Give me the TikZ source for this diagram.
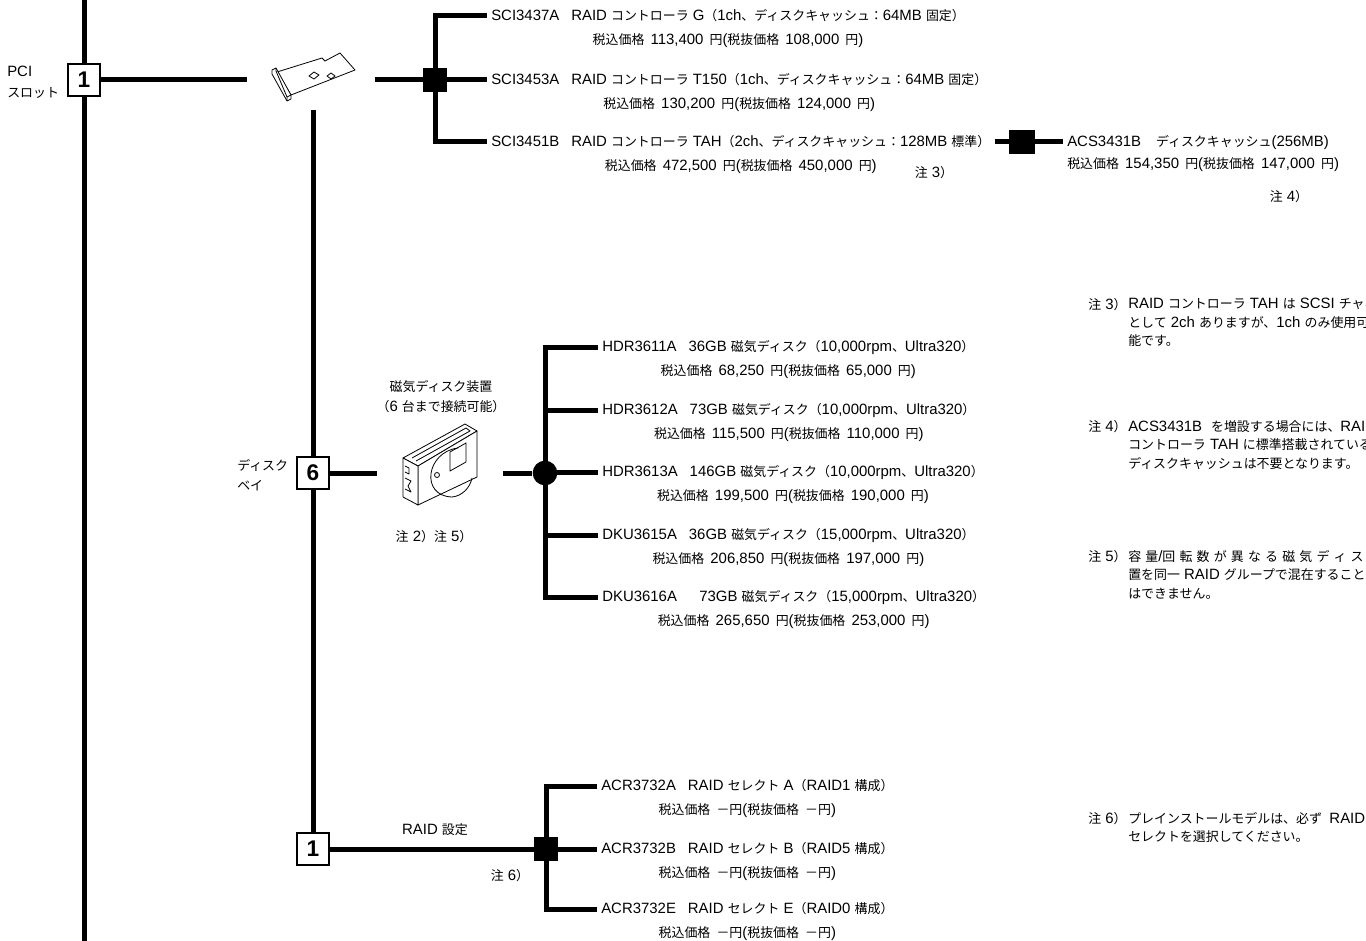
\documentclass[tikz,border=0pt]{standalone}
\usepackage{fontspec}
\setmainfont{Liberation Sans}[Scale=1.12]
\newfontfamily\latfont{Liberation Sans}[Scale=1.12]
\newfontfamily\cjkfont{Noto Sans CJK JP}[Scale=0.97]
\newfontfamily\digitfont{Liberation Sans}
\usetikzlibrary{positioning}

% Latin runs in Liberation Sans, Japanese runs in Noto Sans CJK JP
\XeTeXinterchartokenstate=1
\newXeTeXintercharclass\cjkcls
\newcount\cjkcnt
\def\setcjkrange#1#2{\cjkcnt=#1\relax
  \loop\XeTeXcharclass\cjkcnt=\cjkcls
  \ifnum\cjkcnt<#2\relax\advance\cjkcnt by 1\repeat}
\setcjkrange{"3000}{"30FF}
\setcjkrange{"4E00}{"9FFF}
\setcjkrange{"FF00}{"FFEF}
\XeTeXinterchartoks 0 \cjkcls = {\cjkfont}
\XeTeXinterchartoks 4095 \cjkcls = {\cjkfont}
\XeTeXinterchartoks \cjkcls 0 = {\latfont}
\XeTeXinterchartoks \cjkcls 4095 = {\latfont}

\newcommand{\sepgap}[1]{\hspace{#1em}}
\newcommand{\wide}{\hspace{0.28em}}

\tikzstyle{bus}=[line width=3.75pt]
\tikzstyle{numbox}=[draw,line width=1.2pt,fill=white,minimum size=24pt,inner sep=0pt,font=\digitfont\bfseries\fontsize{17}{17}\selectfont]
\tikzstyle{joint}=[fill=black,minimum size=18pt,inner sep=0pt]
\tikzstyle{dot}=[circle,fill=black,minimum size=18.5pt,inner sep=0pt]
\tikzstyle{item}=[anchor=west,inner xsep=3pt,inner ysep=0pt,text height=8.5pt,text depth=1.5pt]
\tikzstyle{price}=[inner xsep=3pt,inner ysep=0pt,text height=8.5pt,text depth=1.5pt,execute at begin node={\spaceskip=4.6pt plus 1pt}]
\tikzstyle{tag}=[inner sep=0pt]
\tikzstyle{note}=[anchor=north west,align=left,inner sep=0pt,font=\fontsize{10}{13.9}\selectfont]
\tikzstyle{sketch}=[line width=0.6pt,line join=round]

\begin{document}
\begin{tikzpicture}[x=0.75pt,y=-0.75pt,font=\fontsize{10}{12}\selectfont,node distance=7.5pt]
	\fill[white] (0,0) rectangle (1366,941);
	\useasboundingbox (0,0) rectangle (1366,941);
	% PCI slot and controllers
	\node[numbox] (pci) at (84,80) {1};
	\node[tag,anchor=west,align=left,font=\fontsize{10}{15.75}\selectfont] (pcit) at (7,82) {PCI\\スロット};
	\coordinate (top) at (84,0);
	\coordinate (bot) at (84,941);
	\coordinate (cardl) at (247,80);
	\coordinate (cardr) at (375,80);
	\coordinate (cardb) at (313,110);
	\node[joint] (h1) at (435,80) {};
	\node[item] (s1) at (487,16) {SCI3437A\sepgap{0.8}RAID コントローラ G（1ch、ディスクキャッシュ：64MB 固定）};
	\node[price,below=of s1] (s1p) {税込価格 113,400 円(税抜価格 108,000 円)};
	\node[item] (s2) at (487,80) {SCI3453A\sepgap{0.8}RAID コントローラ T150（1ch、ディスクキャッシュ：64MB 固定）};
	\node[price,below=of s2] (s2p) {税込価格 130,200 円(税抜価格 124,000 円)};
	\node[item] (s3) at (487,142) {SCI3451B\sepgap{0.8}RAID コントローラ TAH（2ch、ディスクキャッシュ：128MB 標準）};
	\node[price,below=of s3] (s3p) {税込価格 472,500 円(税抜価格 450,000 円)};
	\node[tag] (n3a) at (934,173) {注 3）};
	% disk cache
	\coordinate (c3) at (995,142);
	\node[joint,minimum width=19pt] (h4) at (1022,142) {};
	\node[item] (acs) at (1063,142) {ACS3431B\sepgap{1.0}ディスクキャッシュ(256MB)};
	\node[price,anchor=north west] (acsp) at ([yshift=-6pt]acs.south west) {税込価格 154,350 円(税抜価格 147,000 円)};
	\node[tag] (n4a) at (1289,197) {注 4）};
	% disk bay
	\node[numbox] (b6) at (313,473) {6};
	\node[tag,anchor=west,align=left,font=\fontsize{10}{15}\selectfont] (bay) at (237,475) {ディスク\\ベイ};
	\coordinate (dl) at (377,473);
	\coordinate (dr) at (503,473);
	\node[dot] (h2) at (545,473) {};
	\node[tag,align=center,font=\fontsize{10}{15}\selectfont] (hdd) at (441,397) {磁気ディスク装置\\（6 台まで接続可能）};
	\node[tag] (n25) at (434,537) {注 2）注 5）};
	\node[item] (d1) at (598,347) {HDR3611A\sepgap{0.8}36GB 磁気ディスク（10,000rpm、Ultra320）};
	\node[price,below=of d1] (d1p) {税込価格 68,250 円(税抜価格 65,000 円)};
	\node[item] (d2) at (598,410) {HDR3612A\sepgap{0.8}73GB 磁気ディスク（10,000rpm、Ultra320）};
	\node[price,below=of d2] (d2p) {税込価格 115,500 円(税抜価格 110,000 円)};
	\node[item] (d3) at (598,472) {HDR3613A\sepgap{0.8}146GB 磁気ディスク（10,000rpm、Ultra320）};
	\node[price,below=of d3] (d3p) {税込価格 199,500 円(税抜価格 190,000 円)};
	\node[item] (d4) at (598,535) {DKU3615A\sepgap{0.8}36GB 磁気ディスク（15,000rpm、Ultra320）};
	\node[price,below=of d4] (d4p) {税込価格 206,850 円(税抜価格 197,000 円)};
	\node[item] (d5) at (598,597) {DKU3616A\sepgap{1.5}73GB 磁気ディスク（15,000rpm、Ultra320）};
	\node[price,below=of d5] (d5p) {税込価格 265,650 円(税抜価格 253,000 円)};
	% RAID setting
	\node[numbox] (b1) at (313,849) {1};
	\node[joint] (h3) at (546,849) {};
	\node[tag] (raid) at (435,830) {RAID 設定};
	\node[tag] (n6a) at (510,876) {注 6）};
	\node[item] (r1) at (597,786) {ACR3732A\sepgap{0.8}RAID セレクト A（RAID1 構成）};
	\node[price,below=of r1] (r1p) {税込価格 －円(税抜価格 －円)};
	\node[item] (r2) at (597,849) {ACR3732B\sepgap{0.8}RAID セレクト B（RAID5 構成）};
	\node[price,below=of r2] (r2p) {税込価格 －円(税抜価格 －円)};
	\node[item] (r3) at (597,909) {ACR3732E\sepgap{0.8}RAID セレクト E（RAID0 構成）};
	\node[price,below=of r3] (r3p) {税込価格 －円(税抜価格 －円)};
	% notes
	\node[note] (n3) at (1088,298) {注 3）};
	\node[note] (n3b) at (1128,298) {RAID コントローラ TAH は SCSI チャネル\\として 2ch ありますが、1ch のみ使用可\\能です。};
	\node[note] (n4) at (1088,420) {注 4）};
	\node[note] (n4b) at (1128,420) {ACS3431B\sepgap{0.6}を増設する場合には、RAID\\コントローラ TAH に標準搭載されている\\ディスクキャッシュは不要となります。};
	\node[note] (n5) at (1088,550) {注 5）};
	\node[note] (n5b) at (1128,550) {容\wide 量/回\wide 転\wide 数\wide が\wide 異\wide な\wide る\wide 磁\wide 気\wide デ\wide ィ\wide ス\wide ク\\置を同一 RAID グループで混在すること\\はできません。};
	\node[note] (n6) at (1088,812) {注 6）};
	\node[note] (n6b) at (1128,812) {プレインストールモデルは、必ず\sepgap{0.5}RAID\\セレクトを選択してください。};
	% PCI card
	\draw[sketch,fill=white] (277,72) -- (322,58) -- (325,61) -- (340,53) -- (355,70) -- (291,95) -- cycle;
	\draw[sketch,fill=white] (272,70) -- (276,68) -- (291,95) -- (291,99) -- (287,101) -- (272,74) -- cycle;
	\draw[sketch] (276,68) -- (276,71) -- (287,97) -- (287,101);
	\draw[sketch] (287,97) -- (291,95);
	\draw[sketch] (309,76) -- (314,72) -- (319,75) -- (314,79) -- cycle;
	\draw[sketch] (327,76) -- (331,73) -- (335,76) -- (331,79) -- cycle;
	% disk drive
	\draw[sketch,fill=white] (403,458) -- (465,424) -- (477,431) -- (418,466) -- cycle;
	\draw[sketch,fill=white] (418,466) -- (477,431) -- (477,477) -- (418,505) -- cycle;
	\draw[sketch,fill=white] (403,458) -- (418,466) -- (418,505) -- (403,497) -- cycle;
	\draw[sketch] (412,458) -- (466,428) -- (470,431) -- (416,461);
	\draw[sketch] (458,448) .. controls (426,452) and (420,496) .. (452,497);
	\draw[sketch] (452,497) .. controls (462,496) and (470,488) .. (472,478);
	\draw[sketch] (437,475) circle (2.5);
	\draw[sketch] (450,452) -- (466,443) -- (466,462) -- (450,471) -- cycle;
	\draw[sketch] (405,466) -- (409,468) -- (409,474) -- (405,472) (405,478) -- (411,481) -- (408,486) -- (411,492) -- (405,489);
	% connectors
	\draw[bus] (top) -- (pci.north);
	\draw[bus] (pci.south) -- (bot);
	\draw[bus] (pci) -- (cardl);
	\draw[bus] (cardr) -- (h1);
	\foreach \dest in {s1,s2,s3}
		\draw[bus] (h1.center) |- (\dest.west);
	\draw[bus] (c3) -- (h4) -- (acs);
	\draw[bus] (cardb) -- (b6);
	\draw[bus] (b6) -- (b1);
	\draw[bus] (b6) -- (dl);
	\draw[bus] (dr) -- (h2);
	\foreach \dest in {d1,d2,d3,d4,d5}
		\draw[bus] (h2.center) |- (\dest.west);
	\draw[bus] (b1) -- (h3);
	\foreach \dest in {r1,r2,r3}
		\draw[bus] (h3.center) |- (\dest.west);
\end{tikzpicture}
\end{document}
